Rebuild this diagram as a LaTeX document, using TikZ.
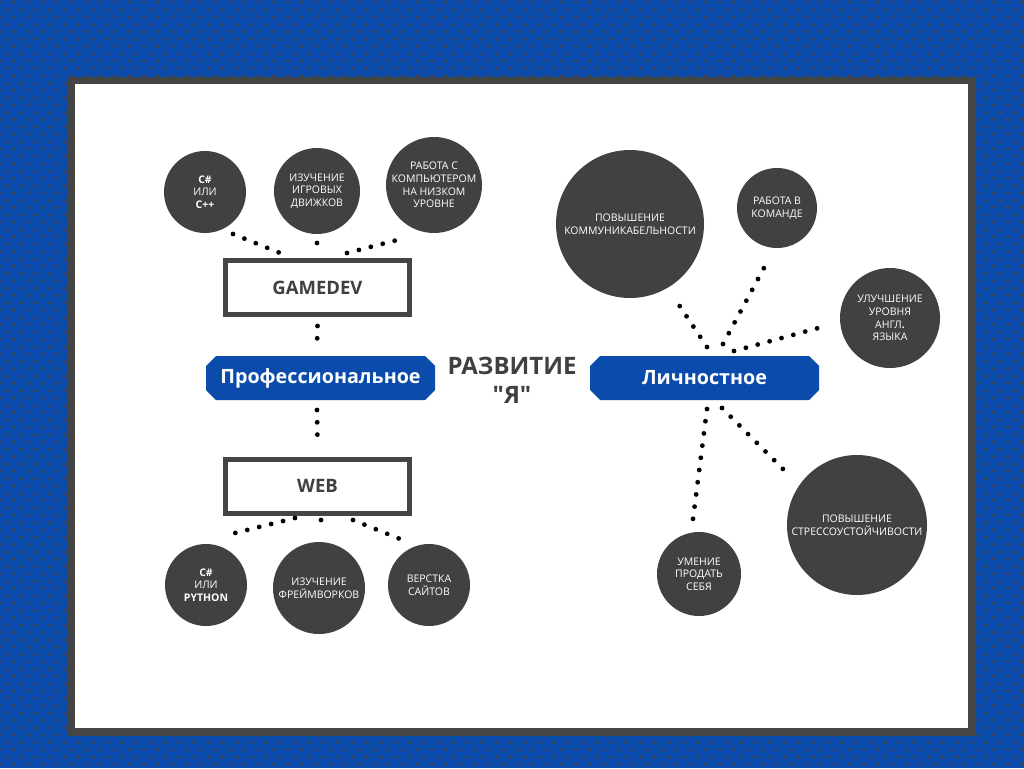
\documentclass[tikz,border=0pt]{standalone}
\usepackage{fontspec}
\setmainfont{Open Sans}[Ligatures=TeXOff]
\usetikzlibrary{shapes.misc,calc}

\definecolor{bgblue}{HTML}{0A4BAB}
\definecolor{dotgray}{HTML}{46474F}
\definecolor{framegray}{HTML}{454545}
\definecolor{circgray}{HTML}{414042}
\definecolor{textgray}{HTML}{404040}

\begin{document}
\begin{tikzpicture}[
    x=1pt, y=-1pt,
    circ/.style={circle, fill=circgray, text=white, align=center, inner sep=0pt, font=\fontsize{10.5}{12.6}\selectfont},
    topic/.style={rectangle, draw=framegray, line width=5pt, fill=white, minimum width=184pt, minimum height=54pt, text=textgray, font=\fontsize{18.5}{20}\selectfont\bfseries},
    branch/.style={chamfered rectangle, chamfered rectangle xsep=5pt, chamfered rectangle ysep=5pt, fill=bgblue, text=white, minimum width=229pt, minimum height=44pt, inner sep=0pt, font=\fontsize{19.7}{22}\selectfont\bfseries},
    dotline/.style={line width=4.8pt, line cap=round, dash pattern=on 0pt off 12.3pt}
]
    \useasboundingbox (0,0) rectangle (1024,768);
    \fill[bgblue] (0,0) rectangle (1024,768);
    \foreach \j in {0,...,52} {
        \fill[dotgray] \foreach \i in {0,...,71} {
            (-0.4+14.4*\i, 2.3+14.65*\j) circle (1.8) (6.8+14.4*\i, 10+14.65*\j) circle (1.8)};
    }
    \fill[framegray] (68,77) rectangle (976,736);
    \fill[white] (75,84) rectangle (968,728);

    \node [topic] (gd) at (317.5,287.5) {GAMEDEV};
    \node [topic] (web) at (317.5,486) {WEB};
    \node [branch] (prof) at (320.5,378) {Профессиональное};
    \node [branch] (pers) at (704.5,378) {Личностное};
    \node [text=textgray, align=center, font=\fontsize{24}{29}\selectfont\bfseries] (title) at (512,380) {РАЗВИТИЕ\\"Я"};

    \node [circ, minimum size=82pt] (c1) at (205,192) {\textbf{C\#}\\ИЛИ\\\textbf{C++}};
    \node [circ, minimum size=86pt] (c2) at (317,191) {ИЗУЧЕНИЕ\\ИГРОВЫХ\\ДВИЖКОВ};
    \node [circ, minimum size=96pt] (c3) at (434,185) {РАБОТА С\\КОМПЬЮТЕРОМ\\НА НИЗКОМ\\УРОВНЕ};
    \node [circ, minimum size=82pt] (c4) at (206,585) {\textbf{C\#}\\ИЛИ\\\textbf{PYTHON}};
    \node [circ, minimum size=92pt] (c5) at (319,588) {ИЗУЧЕНИЕ\\ФРЕЙМВОРКОВ};
    \node [circ, minimum size=82pt] (c6) at (429,585) {ВЕРСТКА\\САЙТОВ};
    \node [circ, minimum size=148pt] (r1) at (630,224) {ПОВЫШЕНИЕ\\КОММУНИКАБЕЛЬНОСТИ};
    \node [circ, minimum size=80pt] (r2) at (777,208) {РАБОТА В\\КОМАНДЕ};
    \node [circ, minimum size=100pt] (r3) at (890,318) {УЛУЧШЕНИЕ\\УРОВНЯ\\АНГЛ\textbf{.}\\ЯЗЫКА};
    \node [circ, minimum size=140pt] (r4) at (857,525) {ПОВЫШЕНИЕ\\СТРЕССОУСТОЙЧИВОСТИ};
    \node [circ, minimum size=84pt] (r5) at (699,574) {УМЕНИЕ\\ПРОДАТЬ\\СЕБЯ};

    \draw [dotline] ($(c1)+(28,42)$) -- ($(gd)+(-27.5,-30.5)$);
    \draw [dotline] ($(c2)+(0,52)$) -- ($(gd)+(0,-34.5)$);
    \draw [dotline] ($(gd)+(29.5,-34.5)$) -- ($(c3)+(-29,53)$);
    \draw [dotline] ($(gd)+(0,38.5)$) -- ($(prof)+(-3.5,-32)$);
    \draw [dotline] ($(prof)+(-3.5,32)$) -- ($(web)+(0,-44)$);
    \draw [dotline] ($(web)+(-22.5,32)$) -- ($(c4)+(29,-52)$);
    \draw [dotline] ($(web)+(3.5,34)$) -- ($(c5)+(2,-57)$);
    \draw [dotline] ($(web)+(35.5,34)$) -- ($(c6)+(-19,-42)$);

    \draw [dotline] ($(pers)+(2.5,-31)$) -- ($(r1)+(43,72)$);
    \draw [dotline] ($(pers)+(18.5,-34)$) -- ($(r2)+(-12,58)$);
    \draw [dotline] ($(pers)+(29.5,-27)$) -- ($(r3)+(-68,9)$);
    \draw [dotline] ($(pers)+(2.5,31)$) -- ($(r5)+(-6,-55)$);
    \draw [dotline] ($(pers)+(17.5,30)$) -- ($(r4)+(-70,-52)$);
\end{tikzpicture}
\end{document}
